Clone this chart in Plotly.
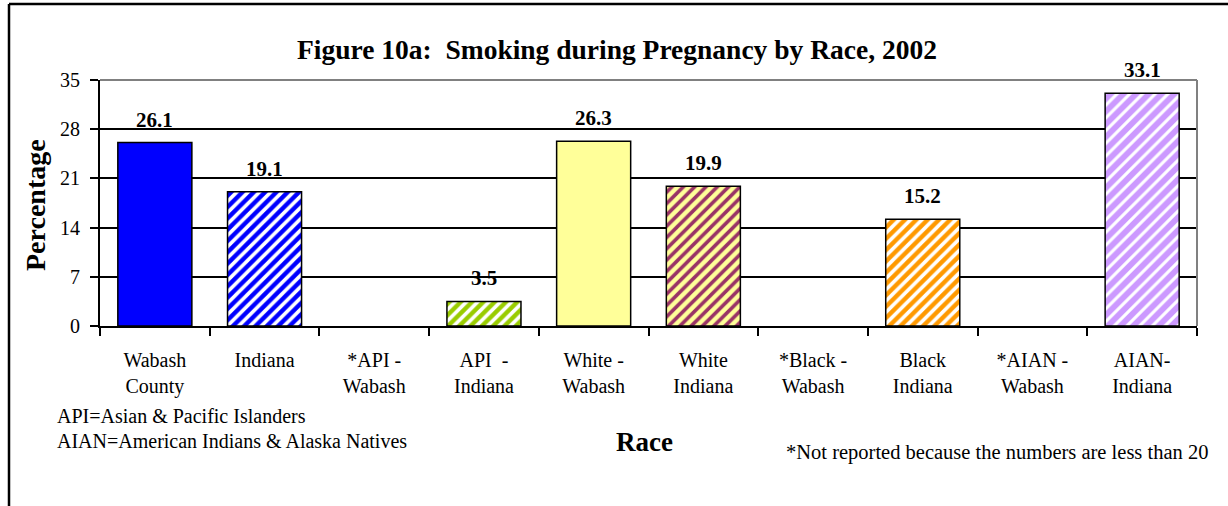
import plotly.graph_objects as go

categories = ["Wabash<br>County", "Indiana", "*API -<br>Wabash", "API  -<br>Indiana",
              "White -<br>Wabash", "White<br>Indiana", "*Black -<br>Wabash",
              "Black<br>Indiana", "*AIAN -<br>Wabash", "AIAN-<br>Indiana"]
values = [26.1, 19.1, None, 3.5, 26.3, 19.9, None, 15.2, None, 33.1]
y_ticks = [0, 7, 14, 21, 28, 35]

bar_colors = ["#0000FF", "#0000FF", "#FFFFFF", "#99CC00", "#FFFF99",
              "#FFFF99", "#FFFFFF", "#FF9900", "#FFFFFF", "#CC99FF"]
stripe_colors = ["#0000FF", "#FFFFFF", "#FFFFFF", "#FFFFFF", "#FFFF99",
                 "#993366", "#FFFFFF", "#FFFFFF", "#FFFFFF", "#FFFFFF"]
stripe_shapes = ["", "/", "", "/", "", "/", "", "/", "", "/"]
stripe_solidity = [0.45, 0.45, 0.45, 0.45, 0.45, 0.45, 0.45, 0.45, 0.45, 0.35]
stripe_size = [8, 8, 8, 8, 8, 8, 8, 8, 8, 9]

W, H = 1228, 506
L, R, T, B = 100, 31, 80, 180
PW, PH = W - L - R, H - T - B


def px(x):
    return (x - L) / PW


def py(y):
    return 1 - (y - T) / PH


SERIF = "Liberation Serif, Times New Roman, serif"

fig = go.Figure()
for i, (c, v) in enumerate(zip(categories, values)):
    pattern = dict(shape=stripe_shapes[i], fillmode="overlay")
    if stripe_shapes[i]:
        pattern.update(fgcolor=stripe_colors[i], fgopacity=1,
                       solidity=stripe_solidity[i], size=stripe_size[i])
    fig.add_trace(go.Bar(
        x=[c], y=[v], width=0.675, name=c.replace("<br>", " "),
        marker=dict(color=bar_colors[i], line=dict(color="black", width=1.5),
                    pattern=pattern),
        hoverinfo="x+y", showlegend=False,
    ))

annotations = []
for c, v in zip(categories, values):
    if v is not None:
        annotations.append(dict(x=c, y=v, xref="x", yref="y", text=f"<b>{v}</b>",
                                showarrow=False, yanchor="bottom", yshift=9,
                                font=dict(family=SERIF, size=21, color="black")))

annotations += [
    dict(text="<b>Figure 10a:  Smoking during Pregnancy by Race, 2002</b>",
         x=px(617), y=py(50), xref="paper", yref="paper", showarrow=False,
         font=dict(family=SERIF, size=27.5, color="black"), xanchor="center", yanchor="middle"),
    dict(text="<b>Percentage</b>", textangle=-90,
         x=px(35), y=py(205), xref="paper", yref="paper", showarrow=False,
         font=dict(family=SERIF, size=28, color="black"), xanchor="center", yanchor="middle"),
    dict(text="<b>Race</b>",
         x=px(644), y=py(442), xref="paper", yref="paper", showarrow=False,
         font=dict(family=SERIF, size=27, color="black"), xanchor="center", yanchor="middle"),
    dict(text="API=Asian & Pacific Islanders",
         x=px(55), y=py(416), xref="paper", yref="paper", showarrow=False,
         font=dict(family=SERIF, size=20, color="black"), xanchor="left", yanchor="middle"),
    dict(text="AIAN=American Indians & Alaska Natives",
         x=px(55), y=py(441), xref="paper", yref="paper", showarrow=False,
         font=dict(family=SERIF, size=20, color="black"), xanchor="left", yanchor="middle"),
    dict(text="*Not reported because the numbers are less than 20",
         x=px(1210), y=py(452), xref="paper", yref="paper", showarrow=False,
         font=dict(family=SERIF, size=20.5, color="black"), xanchor="right", yanchor="middle"),
]

shapes = [
    # outer frame (left and top)
    dict(type="line", xref="paper", yref="paper", x0=px(9), x1=px(9), y0=py(4), y1=py(506),
         line=dict(color="black", width=2.5)),
    dict(type="line", xref="paper", yref="paper", x0=px(9), x1=px(1228), y0=py(4), y1=py(4),
         line=dict(color="black", width=2.5)),
    # plot area top/right border (gray)
    dict(type="line", xref="paper", yref="paper", x0=0, x1=1, y0=1, y1=1,
         line=dict(color="#808080", width=2), layer="above"),
    dict(type="line", xref="paper", yref="paper", x0=1, x1=1, y0=0, y1=1,
         line=dict(color="#808080", width=2), layer="above"),
]

fig.update_layout(
    width=W, height=H,
    margin=dict(l=L, r=R, t=T, b=B, autoexpand=False),
    paper_bgcolor="white", plot_bgcolor="white",
    barmode="overlay",
    annotations=annotations, shapes=shapes,
    xaxis=dict(type="category", categoryorder="array", categoryarray=categories,
               tickson="boundaries", ticks="outside", ticklen=8, tickwidth=2, tickcolor="black",
               showline=True, linecolor="black", linewidth=2, showgrid=False,
               tickfont=dict(family=SERIF, size=20, color="black"), ticklabelstandoff=15,
               fixedrange=True),
    yaxis=dict(range=[0, 35], tickvals=y_ticks, ticks="outside", ticklen=8, tickwidth=2,
               tickcolor="black", showline=True, linecolor="black", linewidth=2,
               showgrid=True, gridcolor="black", gridwidth=1.5, zeroline=False,
               tickfont=dict(family=SERIF, size=20, color="black"), ticklabelstandoff=6,
               fixedrange=True),
)

fig.write_html("out.html", config={"displayModeBar": False},
               post_script="document.body.style.margin='0px';")
